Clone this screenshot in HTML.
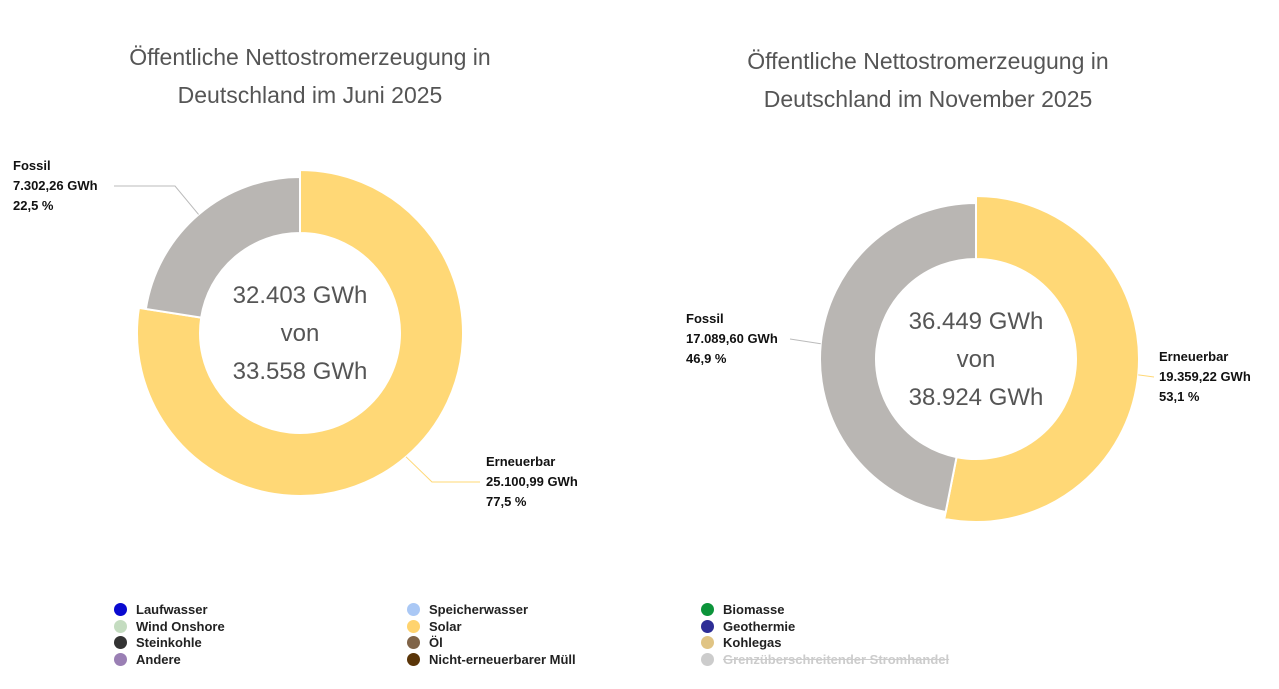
<!DOCTYPE html>
<html><head><meta charset="utf-8"><style>
body{margin:0;width:1279px;height:689px;background:#fff;overflow:hidden;font-family:"Liberation Sans",sans-serif}
.t{position:absolute;font-size:23px;color:#555;text-align:center;line-height:38px}
.lg{position:absolute;font-size:13px;font-weight:bold;color:#222;line-height:17px}
.lg span{display:inline-block;width:13px;height:13px;border-radius:50%;vertical-align:-2px;margin-right:9px}
</style></head><body>
<div class="t" style="left:90px;top:38px;width:440px">Öffentliche Nettostromerzeugung in<br>Deutschland im Juni 2025</div>
<div class="t" style="left:708px;top:42px;width:440px">Öffentliche Nettostromerzeugung in<br>Deutschland im November 2025</div>
<svg id="s" width="1279" height="689" style="position:absolute;left:0;top:0"></svg>
<div>
<div class="lg" style="left:114px;top:601px"><span style="background:#0a0ad0"></span>Laufwasser</div>
<div class="lg" style="left:114px;top:618px"><span style="background:#c4dcc0"></span>Wind Onshore</div>
<div class="lg" style="left:114px;top:634px"><span style="background:#333"></span>Steinkohle</div>
<div class="lg" style="left:114px;top:651px"><span style="background:#9a7fb4"></span>Andere</div>
<div class="lg" style="left:407px;top:601px"><span style="background:#aac8f5"></span>Speicherwasser</div>
<div class="lg" style="left:407px;top:618px"><span style="background:#ffd36e"></span>Solar</div>
<div class="lg" style="left:407px;top:634px"><span style="background:#806448"></span>Öl</div>
<div class="lg" style="left:407px;top:651px"><span style="background:#5a3508"></span>Nicht-erneuerbarer Müll</div>
<div class="lg" style="left:701px;top:601px"><span style="background:#0c943a"></span>Biomasse</div>
<div class="lg" style="left:701px;top:618px"><span style="background:#2e2e96"></span>Geothermie</div>
<div class="lg" style="left:701px;top:634px"><span style="background:#e0c484"></span>Kohlegas</div>
<div class="lg" style="left:701px;top:651px;color:#ccc;text-decoration:line-through"><span style="background:#ccc"></span>Grenzüberschreitender Stromhandel</div>
</div>
<script>
const categories=["Erneuerbar","Fossil"];
const juneValues=[25100.99,7302.26];
const novValues=[19359.22,17089.60];
const juneValueLabels=["25.100,99 GWh","7.302,26 GWh"];
const novValueLabels=["19.359,22 GWh","17.089,60 GWh"];
const junePct=["77,5 %","22,5 %"];
const novPct=["53,1 %","46,9 %"];
const juneCenter=["32.403 GWh","von","33.558 GWh"];
const novCenter=["36.449 GWh","von","38.924 GWh"];
const colors=["#FFD876","#B9B6B3"];
const svg=document.getElementById('s');const NS="http://www.w3.org/2000/svg";
function mk(t,a,p){const e=document.createElementNS(NS,t);for(const k in a)e.setAttribute(k,a[k]);(p||svg).appendChild(e);return e;}
function pt(cx,cy,r,a){return [cx+r*Math.sin(a),cy-r*Math.cos(a)];}
function donut(name,cx,cy,vals,vl,pc,center,labelPos){
 const g=mk('g',{});
 
 
 const tot=vals.reduce((a,b)=>a+b,0);let a0=0;
 vals.forEach((v,i)=>{
  const a1=a0+v/tot*2*Math.PI;const R=i==0?163:156,r=100;
  const p1=pt(cx,cy,R,a0),p2=pt(cx,cy,R,a1),p3=pt(cx,cy,r,a1),p4=pt(cx,cy,r,a0);const lg=(a1-a0)>Math.PI?1:0;
  const p=mk('path',{d:`M${p1}A${R},${R} 0 ${lg} 1 ${p2}L${p3}A${r},${r} 0 ${lg} 0 ${p4}Z`,fill:colors[i],stroke:'#fff','stroke-width':2},g);
  
  
  const lp=labelPos[i];const m=(a0+a1)/2;const e=pt(cx,cy,R,m);
  const ln=mk('polyline',{points:`${e} ${lp.bx},${lp.y+20} ${lp.lx},${lp.y+20}`,fill:'none',stroke:i==0?'#FFD876':'#bbb','stroke-width':1},g);
  
  
  const tx=mk('text',{x:lp.tx,y:lp.y+4,'font-size':13,'font-weight':'bold',fill:'#111','font-family':'Liberation Sans'},g);
  
  
  [categories[i],vl[i],pc[i]].forEach((s,j)=>{const ts=mk('tspan',{x:lp.tx,dy:j?20:0},tx);ts.textContent=s;});
  a0=a1;});
 center.forEach((s,j)=>{const t=mk('text',{x:cx,y:cy-30+j*38,'text-anchor':'middle','font-size':24,fill:'#555','font-family':'Liberation Sans'},g);t.textContent=s;
  
  });
}
donut('donut-june',300,333,juneValues,juneValueLabels,junePct,juneCenter,[{tx:486,y:462,lx:480,bx:432},{tx:13,y:166,lx:114,bx:175}]);
donut('donut-november',976,359,novValues,novValueLabels,novPct,novCenter,[{tx:1159,y:357,lx:1154,bx:1154},{tx:686,y:319,lx:790,bx:790}]);
</script>
</body></html>
